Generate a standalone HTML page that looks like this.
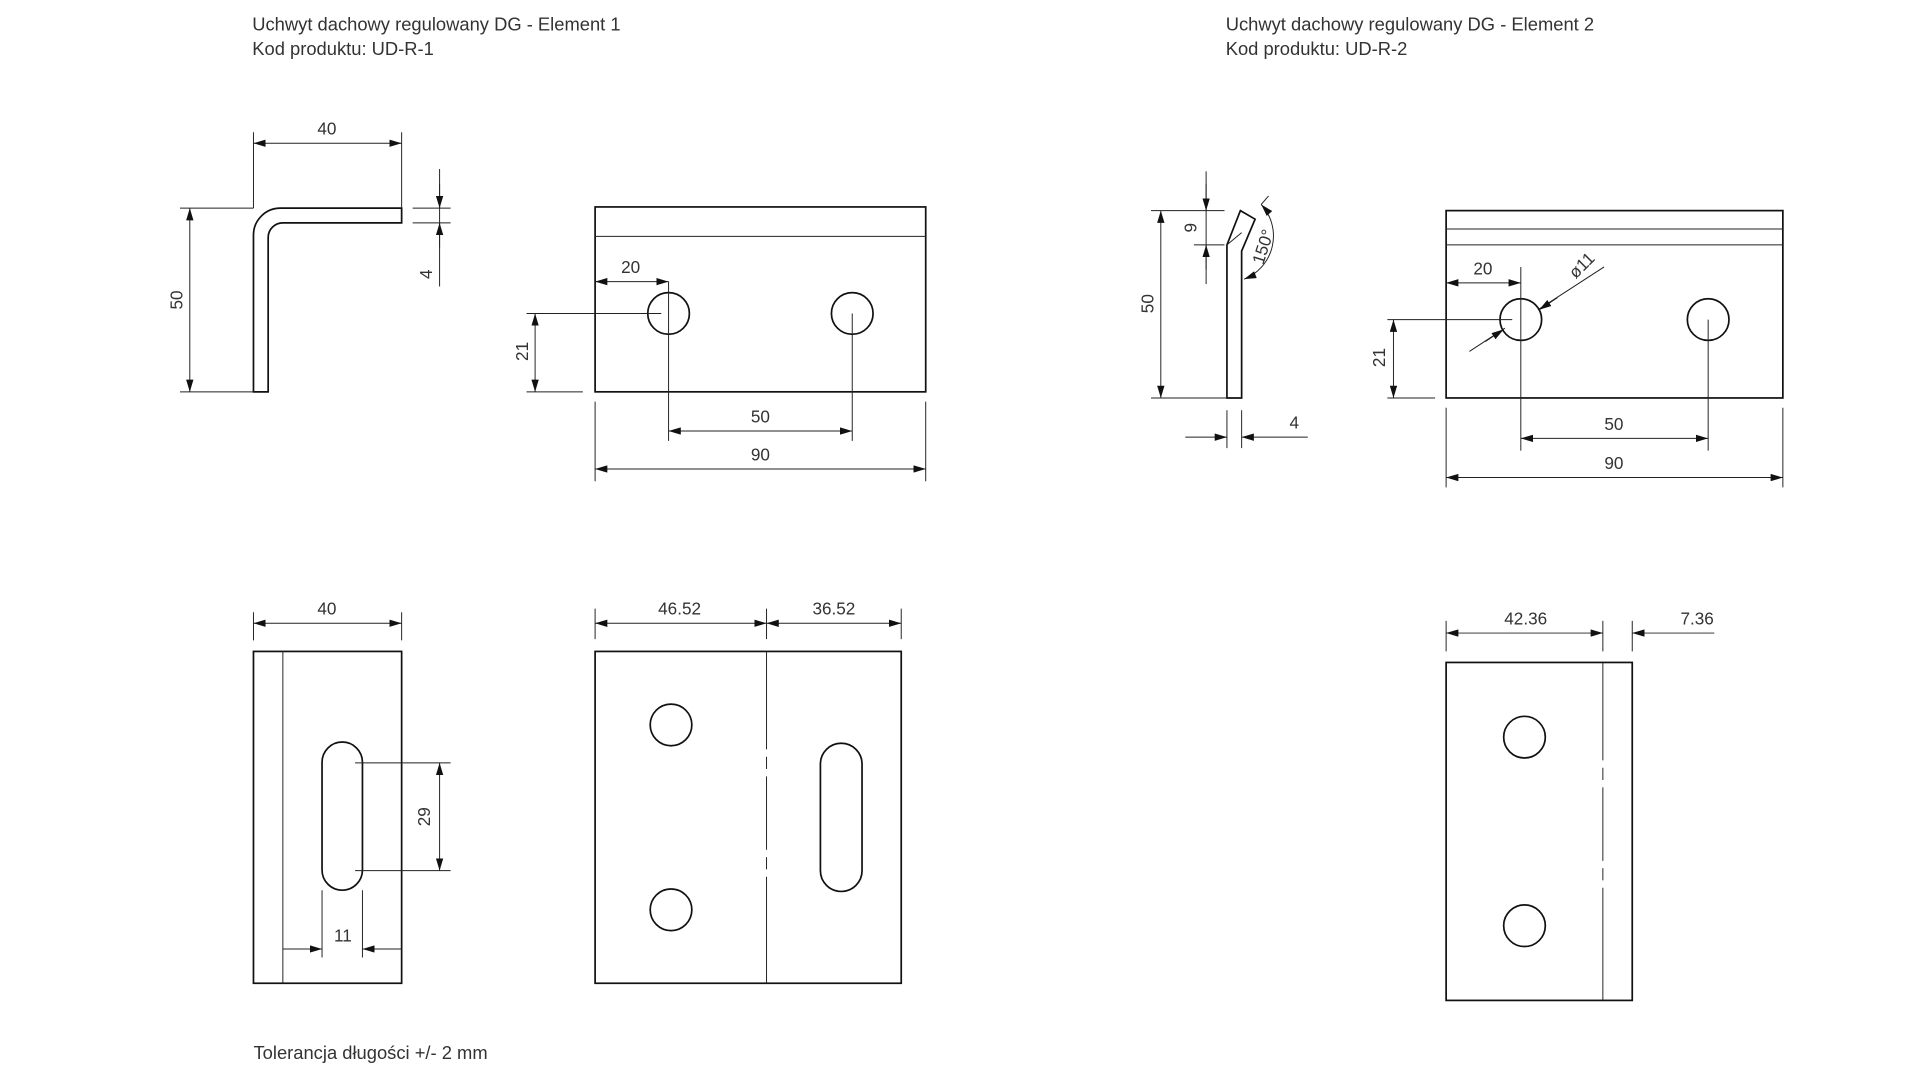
<!DOCTYPE html>
<html><head><meta charset="utf-8"><style>
html,body{margin:0;padding:0;background:#fff;}
svg{display:block;}
text{font-family:"Liberation Sans",sans-serif;fill:#333;}
.o{fill:none;stroke:#111;stroke-width:1.4;}
.d{fill:none;stroke:#222;stroke-width:0.8;}
</style></head><body>
<svg width="1920" height="1080" viewBox="0 0 1568 882" preserveAspectRatio="none" xmlns="http://www.w3.org/2000/svg">
<defs>
<marker id="a" viewBox="0 0 10 6" refX="10" refY="3" markerWidth="10" markerHeight="6" markerUnits="userSpaceOnUse" orient="auto-start-reverse"><path d="M0,0 L10,3 L0,6 Z" fill="#111"/></marker>
</defs>
<g font-size="15">
<text x="206" y="25">Uchwyt dachowy regulowany DG - Element 1</text>
<text x="206" y="45">Kod produktu: UD-R-1</text>
<text x="1001" y="25">Uchwyt dachowy regulowany DG - Element 2</text>
<text x="1001" y="45">Kod produktu: UD-R-2</text>
<text x="207" y="865">Tolerancja długości +/- 2 mm</text>
</g>
<g font-size="14" text-anchor="middle">
<path class="o" d="M207,320 L207,192 A22,22 0 0 1 229,170 L328,170 L328,182 L231,182 A12,12 0 0 0 219,194 L219,320 Z"/>
<path class="d" d="M207,108V170 M328,108V170 M147,170H207 M147,320H207 M337,170H368 M337,182H368 M359,138V234"/>
<line class="d" x1="207" y1="117" x2="328" y2="117" marker-start="url(#a)" marker-end="url(#a)"/>
<line class="d" x1="155" y1="170" x2="155" y2="320" marker-start="url(#a)" marker-end="url(#a)"/>
<line class="d" x1="359" y1="150" x2="359" y2="170" marker-end="url(#a)"/>
<line class="d" x1="359" y1="202" x2="359" y2="182" marker-end="url(#a)"/>
<text x="267" y="110">40</text>
<text transform="translate(149,245) rotate(-90)">50</text>
<text transform="translate(353,224) rotate(-90)">4</text>
<rect class="o" x="486" y="169" width="270" height="151"/>
<line class="d" x1="486" y1="193" x2="756" y2="193"/>
<circle class="o" cx="546" cy="256" r="17"/><circle class="o" cx="696" cy="256" r="17"/>
<path class="d" d="M546,230V360 M696,256V360 M430,256H540 M430,320H476 M486,328V393 M756,328V393"/>
<line class="d" x1="486" y1="230" x2="546" y2="230" marker-start="url(#a)" marker-end="url(#a)"/>
<line class="d" x1="437" y1="256" x2="437" y2="320" marker-start="url(#a)" marker-end="url(#a)"/>
<line class="d" x1="546" y1="352" x2="696" y2="352" marker-start="url(#a)" marker-end="url(#a)"/>
<line class="d" x1="486" y1="383" x2="756" y2="383" marker-start="url(#a)" marker-end="url(#a)"/>
<text x="515" y="223">20</text>
<text transform="translate(431,287) rotate(-90)">21</text>
<text x="621" y="345">50</text>
<text x="621" y="376">90</text>
<path class="o" d="M1002,325 L1002,200 L1013,172 L1025,179 L1014,205 L1014,325 Z"/>
<path class="d" d="M1002,200 L1014,190"/>
<path class="d" d="M940,172H1000 M975,200H1000 M940,325H1002 M985,140V232 M1002,335V366 M1014,335V366 M1030,167 L1036,160"/>
<line class="d" x1="985" y1="150" x2="985" y2="172" marker-end="url(#a)"/>
<line class="d" x1="985" y1="220" x2="985" y2="200" marker-end="url(#a)"/>
<line class="d" x1="948" y1="172" x2="948" y2="325" marker-start="url(#a)" marker-end="url(#a)"/>
<line class="d" x1="968" y1="357" x2="1002" y2="357" marker-end="url(#a)"/>
<line class="d" x1="1068" y1="357" x2="1014" y2="357" marker-end="url(#a)"/>
<path class="d" d="M1030,167 A38,38 0 0 1 1016,228" marker-start="url(#a)" marker-end="url(#a)"/>
<text transform="translate(977,186) rotate(-90)">9</text>
<text transform="translate(942,248) rotate(-90)">50</text>
<text x="1057" y="350">4</text>
<text transform="translate(1036,203) rotate(-72)">150°</text>
<rect class="o" x="1181" y="172" width="275" height="153"/>
<path class="d" d="M1181,187H1456 M1181,200H1456"/>
<circle class="o" cx="1242" cy="261" r="17"/><circle class="o" cx="1395" cy="261" r="17"/>
<path class="d" d="M1242,218V368 M1395,261V368 M1133,261H1235 M1133,325H1172 M1181,333V398 M1456,333V398 M1200,287 L1229,268 M1256,253 L1310,218"/>
<line class="d" x1="1181" y1="231" x2="1242" y2="231" marker-start="url(#a)" marker-end="url(#a)"/>
<line class="d" x1="1213" y1="279" x2="1228" y2="269" marker-end="url(#a)"/>
<line class="d" x1="1272" y1="243" x2="1257" y2="253" marker-end="url(#a)"/>
<line class="d" x1="1138" y1="261" x2="1138" y2="325" marker-start="url(#a)" marker-end="url(#a)"/>
<line class="d" x1="1242" y1="358" x2="1395" y2="358" marker-start="url(#a)" marker-end="url(#a)"/>
<line class="d" x1="1181" y1="390" x2="1456" y2="390" marker-start="url(#a)" marker-end="url(#a)"/>
<text x="1211" y="224">20</text>
<text transform="translate(1295,220) rotate(-45)">ø11</text>
<text transform="translate(1131,292) rotate(-90)">21</text>
<text x="1318" y="351">50</text>
<text x="1318" y="383">90</text>
<rect class="o" x="207" y="532" width="121" height="271"/>
<line class="d" x1="231" y1="532" x2="231" y2="803"/>
<rect class="o" x="263" y="606" width="33" height="121" rx="16.5"/>
<path class="d" d="M290,623H368 M290,711H368 M263,727V782 M296,727V782 M207,500V523 M328,500V523"/>
<line class="d" x1="359" y1="623" x2="359" y2="711" marker-start="url(#a)" marker-end="url(#a)"/>
<line class="d" x1="231" y1="775" x2="263" y2="775" marker-end="url(#a)"/>
<line class="d" x1="328" y1="775" x2="296" y2="775" marker-end="url(#a)"/>
<line class="d" x1="207" y1="509" x2="328" y2="509" marker-start="url(#a)" marker-end="url(#a)"/>
<text x="267" y="502">40</text>
<text transform="translate(351,667) rotate(-90)">29</text>
<text x="280" y="769">11</text>
<rect class="o" x="486" y="532" width="250" height="271"/>
<line class="d" x1="626" y1="532" x2="626" y2="803" stroke-dasharray="80,6,10,6,60,6,10,6,200"/>
<circle class="o" cx="548" cy="592" r="17"/><circle class="o" cx="548" cy="743" r="17"/>
<rect class="o" x="670" y="607" width="34" height="121" rx="17"/>
<path class="d" d="M486,497V522 M626,497V522 M736,497V522"/>
<line class="d" x1="486" y1="509" x2="626" y2="509" marker-start="url(#a)" marker-end="url(#a)"/>
<line class="d" x1="626" y1="509" x2="736" y2="509" marker-start="url(#a)" marker-end="url(#a)"/>
<text x="555" y="502">46.52</text>
<text x="681" y="502">36.52</text>
<rect class="o" x="1181" y="541" width="152" height="276"/>
<line class="d" x1="1309" y1="541" x2="1309" y2="817" stroke-dasharray="80,6,10,6,60,6,10,6,200"/>
<circle class="o" cx="1245" cy="602" r="17"/><circle class="o" cx="1245" cy="756" r="17"/>
<path class="d" d="M1181,507V532 M1309,507V532 M1333,507V532"/>
<line class="d" x1="1181" y1="517" x2="1309" y2="517" marker-start="url(#a)" marker-end="url(#a)"/>
<line class="d" x1="1400" y1="517" x2="1333" y2="517" marker-end="url(#a)"/>
<text x="1246" y="510">42.36</text>
<text x="1386" y="510">7.36</text>
</g>
</svg>
</body></html>
